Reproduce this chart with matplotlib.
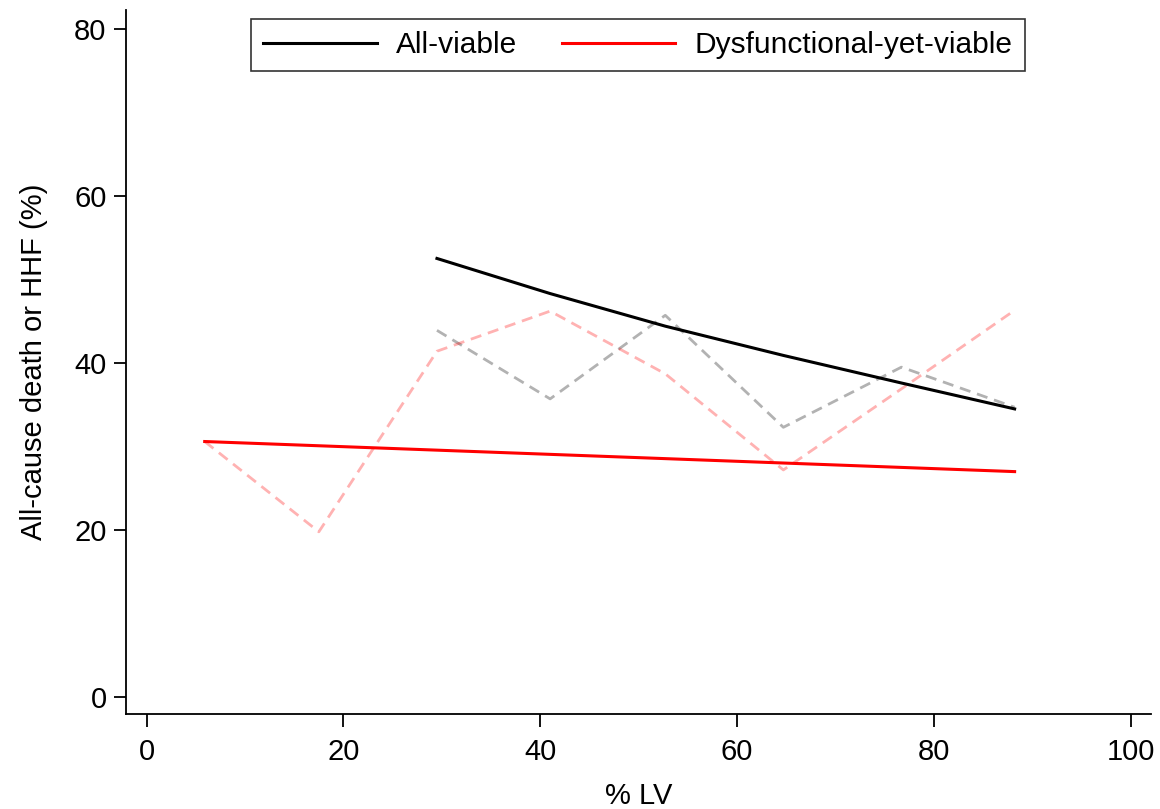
import matplotlib.pyplot as plt

plt.rcParams['font.family'] = ['Liberation Sans', 'DejaVu Sans']

# binned observed rates (dashed) and fitted trends (solid)
lv_all = [29.5, 41.0, 52.7, 64.7, 76.7, 88.2]
obs_all = [43.9, 35.7, 45.7, 32.3, 39.5, 34.7]
fit_all = [52.5, 48.3, 44.4, 40.9, 37.6, 34.5]

lv_dys = [5.9, 17.5, 29.5, 41.0, 52.7, 64.7, 76.7, 88.2]
obs_dys = [30.6, 19.8, 41.4, 46.2, 38.7, 27.2, 36.9, 46.3]
fit_dys_x = [5.9, 88.2]
fit_dys = [30.6, 27.0]

fig = plt.figure(figsize=(11.6, 8.09), dpi=100)
ax = fig.add_axes([0.1086, 0.1174, 0.884, 0.870])

ax.plot(lv_all, obs_all, c='black', alpha=0.3, lw=2, ls=(0, (4, 2.5)))
ax.plot(lv_dys, obs_dys, c='red', alpha=0.3, lw=2, ls=(0, (4, 2.5)))
ax.plot(lv_all, fit_all, c='black', lw=2.2, label='All-viable')
ax.plot(fit_dys_x, fit_dys, c='red', lw=2.2, label='Dysfunctional-yet-viable')

ax.set_xlim(-2.1, 102.1)
ax.set_ylim(-2.0, 82.2)
ax.set_xticks([0, 20, 40, 60, 80, 100])
ax.set_yticks([0, 20, 40, 60, 80])
ax.spines['top'].set_visible(False)
ax.spines['right'].set_visible(False)
for s in ['left', 'bottom']:
    ax.spines[s].set_linewidth(1.3)
ax.tick_params(labelsize=21, length=9, width=1.3)
ax.tick_params(axis='y', pad=5)
ax.tick_params(axis='x', pad=8)

ax.set_xlabel('% LV', fontsize=21, labelpad=12)
ax.set_ylabel('All-cause death or HHF (%)', fontsize=21, labelpad=19)

leg = ax.legend(loc='upper center', bbox_to_anchor=(0.4993, 0.987), ncol=2, fontsize=21.5,
                frameon=True, fancybox=False, edgecolor='black', handlelength=3.8,
                handletextpad=0.64, columnspacing=1.5, borderpad=0.4,
                borderaxespad=0)
leg.get_frame().set_linewidth(1.2)

fig.savefig('out.png')
